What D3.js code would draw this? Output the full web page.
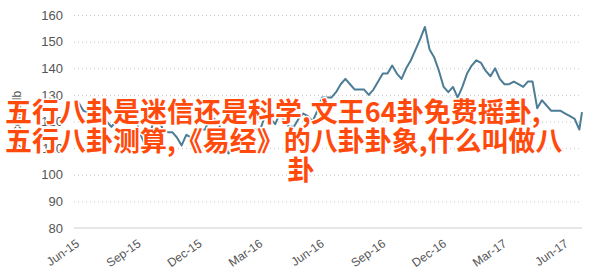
<!DOCTYPE html>
<html>
<head>
<meta charset="utf-8">
<script src="https://cdn.jsdelivr.net/npm/d3@7/dist/d3.min.js"></script>
<style>
  body { margin: 0; background: #fff; }
  svg { display: block; font-family: "Liberation Sans", Arial, sans-serif; }
</style>
</head>
<body>
<div id="content"></div>
<script>
// weekly prices, US cents/lb
const dates = [
  '2015-06-01','2015-06-08','2015-06-15','2015-06-22','2015-06-29',
  '2015-07-06','2015-07-13','2015-07-20','2015-07-27',
  '2015-08-03','2015-08-10','2015-08-17','2015-08-24','2015-08-31',
  '2015-09-07','2015-09-14','2015-09-21','2015-09-28',
  '2015-10-05','2015-10-12','2015-10-19','2015-10-26',
  '2015-11-02','2015-11-09','2015-11-16','2015-11-23','2015-11-30',
  '2015-12-07','2015-12-14','2015-12-21','2015-12-28',
  '2016-01-04','2016-01-11','2016-01-18','2016-01-25',
  '2016-02-01','2016-02-08','2016-02-15','2016-02-22','2016-02-29',
  '2016-03-07','2016-03-14','2016-03-21','2016-03-28',
  '2016-04-04','2016-04-11','2016-04-18','2016-04-25',
  '2016-05-02','2016-05-09','2016-05-16','2016-05-23','2016-05-30',
  '2016-06-06','2016-06-13','2016-06-20','2016-06-27',
  '2016-07-04','2016-07-11','2016-07-18','2016-07-25',
  '2016-08-01','2016-08-08','2016-08-15','2016-08-22','2016-08-29',
  '2016-09-05','2016-09-12','2016-09-19','2016-09-26',
  '2016-10-03','2016-10-10','2016-10-17','2016-10-24','2016-10-31',
  '2016-11-07','2016-11-14','2016-11-21','2016-11-28',
  '2016-12-05','2016-12-12','2016-12-19','2016-12-26',
  '2017-01-02','2017-01-09','2017-01-16','2017-01-23','2017-01-30',
  '2017-02-06','2017-02-13','2017-02-20','2017-02-27',
  '2017-03-06','2017-03-13','2017-03-20','2017-03-27',
  '2017-04-03','2017-04-10','2017-04-17','2017-04-24',
  '2017-05-01','2017-05-08','2017-05-15','2017-05-22','2017-05-29',
  '2017-06-05','2017-06-12','2017-06-19','2017-06-26','2017-06-30'
];
const prices = [
  127, 127, 124, 123.5, 122,
  123, 121, 120, 118,
  120, 125, 127, 122, 123,
  116, 112, 114, 120,
  121, 117, 116, 116,
  114, 111, 115, 114, 117,
  117, 117, 121, 121,
  119, 113, 108, 109,
  111, 114, 115, 117, 117,
  118, 123, 121, 119,
  123, 120, 118, 118,
  121, 123, 122, 120, 124,
  129, 129, 129, 131,
  134, 136, 134, 132,
  132, 132, 130, 132, 135,
  138, 138, 141, 138,
  136, 140, 143, 147, 151,
  155.5, 147, 144, 139,
  133, 131, 133, 129,
  133, 138, 141, 143, 142,
  139, 137, 140, 136,
  134, 134, 135, 134,
  133, 135, 135, 125,
  128, 126, 124, 124, 124,
  123, 122, 121, 117, 123.5
];
const tickDates = ['2015-06-01','2015-09-01','2015-12-01','2016-03-01','2016-06-01',
                   '2016-09-01','2016-12-01','2017-03-01','2017-06-01'];
const yTicks = [80, 90, 100, 110, 120, 130, 140, 150, 160];
const overlayLines = [
  '五行八卦是迷信还是科学,文王64卦免费摇卦,',
  '五行八卦测算,《易经》的八卦卦象,什么叫做八',
  '卦'
];

var app = {};
app.width = 605;
app.height = 273;
var margin = { top: 15, right: 23, bottom: 45, left: 74 };
var parse = d3.timeParse('%Y-%m-%d');

app.data = dates.map((d, i) => ({ date: parse(d), value: prices[i] }));

app.x = d3.scaleTime()
          .domain([parse('2015-06-01'), parse('2017-06-30')])
          .range([margin.left, app.width - margin.right]);

app.y = d3.scaleLinear()
          .domain([80, 160])
          .range([app.height - margin.bottom, margin.top]);

app.svg = d3.select('#content').append('svg')
            .attr('width', app.width)
            .attr('height', app.height);

// horizontal dotted grid
app.yAxis = d3.axisLeft(app.y)
              .tickValues(yTicks)
              .tickSize(-(app.width - margin.left - margin.right))
              .tickPadding(11);

app.yGuide = app.svg.append('g')
                .attr('transform', `translate(${margin.left}, 0)`)
                .call(app.yAxis);
app.yGuide.select('.domain').remove();
app.yGuide.selectAll('line')
    .attr('stroke', '#c8c8c8')
    .attr('stroke-dasharray', '1,3')
    .attr('stroke-width', 1);
app.yGuide.selectAll('line').filter(d => d === 80).remove();
app.yGuide.selectAll('text')
    .attr('fill', '#555')
    .style('font-size', '13px');

// baseline
app.svg.append('line')
    .attr('x1', margin.left).attr('x2', app.width - margin.right)
    .attr('y1', app.y(80)).attr('y2', app.y(80))
    .attr('stroke', '#e6e6e6')
    .attr('stroke-width', 2);

app.xAxis = d3.axisBottom(app.x)
              .tickValues(tickDates.map(parse))
              .tickFormat(d3.timeFormat('%b-%y'))
              .tickSize(0);

app.xGuide = app.svg.append('g')
                .attr('transform', `translate(0, ${app.y(80)})`)
                .call(app.xAxis);
app.xGuide.select('.domain').remove();
app.xGuide.selectAll('text')
    .attr('fill', '#555')
    .style('font-size', '12px')
    .attr('text-anchor', 'end')
    .attr('dy', '0.3em')
    .attr('transform', 'translate(2, 12) rotate(-35)');

// y title
app.svg.append('text')
    .attr('transform', `translate(21, ${app.y(120)}) rotate(-90)`)
    .attr('text-anchor', 'middle')
    .attr('fill', '#555')
    .style('font-size', '12px')
    .text('US cents/lb');

app.line = d3.line()
             .x(d => app.x(d.date))
             .y(d => app.y(d.value));

app.svg.append('path')
    .datum(app.data)
    .attr('fill', 'none')
    .attr('stroke', '#4d7d96')
    .attr('stroke-width', 2)
    .attr('stroke-linejoin', 'round')
    .attr('d', app.line);

// overlay title
var lineX = [5, 5, 301];
var lineAnchor = ['start', 'start', 'middle'];
app.svg.append('g')
    .selectAll('text')
    .data(overlayLines)
    .enter()
    .append('text')
    .attr('x', (d, i) => lineX[i])
    .attr('y', (d, i) => 122 + i * 29)
    .attr('text-anchor', (d, i) => lineAnchor[i])
    .style('font-family', '"Noto Sans CJK SC", sans-serif')
    .style('font-size', '27px')
    .style('font-weight', 'bold')
    .style('paint-order', 'stroke')
    .attr('stroke', '#fff')
    .attr('stroke-width', 3)
    .attr('stroke-linejoin', 'round')
    .attr('fill', '#ff4a0c')
    .text(d => d);
</script>
</body>
</html>
